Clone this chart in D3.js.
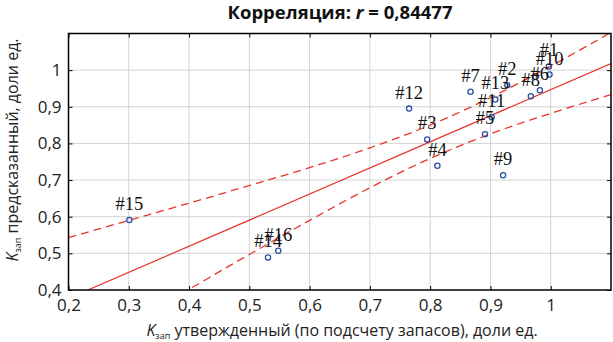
<!DOCTYPE html>
<html>
<head>
<meta charset="utf-8">
<script src="https://cdn.jsdelivr.net/npm/d3@7"></script>
<style>
  html, body { margin: 0; padding: 0; background: #fff; }
  svg { display: block; }
  .plabel { font-family: "Liberation Serif", "DejaVu Serif", serif; }
</style>
</head>
<body>
<svg id="chart" width="613" height="342"></svg>
<script>
// ---- data ----
const xTicks = [0.2, 0.3, 0.4, 0.5, 0.6, 0.7, 0.8, 0.9, 1.0];
const xTickLabels = ["0,2", "0,3", "0,4", "0,5", "0,6", "0,7", "0,8", "0,9", "1"];
const yTicks = [0.4, 0.5, 0.6, 0.7, 0.8, 0.9, 1.0];
const yTickLabels = ["0,4", "0,5", "0,6", "0,7", "0,8", "0,9", "1"];

const pointIds = ["#1", "#2", "#3", "#4", "#5", "#6", "#7", "#8", "#9", "#10", "#11", "#12", "#13", "#14", "#15", "#16"];
const pointX = [0.997, 0.928, 0.795, 0.812, 0.891, 0.982, 0.867, 0.967, 0.921, 0.998, 0.902, 0.765, 0.908, 0.531, 0.301, 0.548];
const pointY = [1.010, 0.959, 0.811, 0.739, 0.825, 0.945, 0.941, 0.929, 0.713, 0.988, 0.872, 0.895, 0.920, 0.489, 0.591, 0.507];

// regression line (end points) and confidence band read at x positions
const regX = [0.2, 1.1];
const regY = [0.377, 1.018];
const bandX = [0.2, 0.3, 0.4, 0.5, 0.6, 0.7, 0.8, 0.9, 1.0, 1.1];
const bandUpper = [0.543, 0.590, 0.637, 0.685, 0.734, 0.788, 0.850, 0.925, 1.011, 1.103];
const bandLower = [0.211, 0.307, 0.402, 0.497, 0.590, 0.679, 0.759, 0.826, 0.882, 0.933];

const xDomain = [0.2, 1.1];
const yDomain = [0.4, 1.1];

// ---- layout ----
const svg = d3.select("#chart");
const L = 68.5, R = 611, T = 33.5, B = 290;
const x = d3.scaleLinear().domain(xDomain).range([L, R]);
const y = d3.scaleLinear().domain(yDomain).range([B, T]);
const red = "#e8342c";
const blue = "#2b4ea6";
const tickFont = "'Open Sans', sans-serif";

svg.append("defs").append("clipPath").attr("id", "plotclip")
  .append("rect").attr("x", L).attr("y", T).attr("width", R - L).attr("height", B - T);

// grid
const grid = svg.append("g");
grid.selectAll("line.gx").data(xTicks.filter(d => d > xDomain[0])).join("line")
  .attr("x1", d => x(d)).attr("x2", d => x(d)).attr("y1", T).attr("y2", B)
  .attr("stroke", "#d4d4d4").attr("stroke-width", 1);
grid.selectAll("line.gy").data(yTicks.filter(d => d > yDomain[0])).join("line")
  .attr("x1", L).attr("x2", R).attr("y1", d => y(d)).attr("y2", d => y(d))
  .attr("stroke", "#d4d4d4").attr("stroke-width", 1);

// lines
const plot = svg.append("g").attr("clip-path", "url(#plotclip)");
const lineGen = d3.line().x(d => x(d[0])).y(d => y(d[1]));
plot.append("path").datum(regX.map((v, i) => [v, regY[i]]))
  .attr("d", lineGen).attr("fill", "none").attr("stroke", red).attr("stroke-width", 1.2);
const curveGen = d3.line().curve(d3.curveMonotoneX).x(d => x(d[0])).y(d => y(d[1]));
[bandUpper, bandLower].forEach(arr => {
  plot.append("path").datum(bandX.map((v, i) => [v, arr[i]]))
    .attr("d", curveGen).attr("fill", "none").attr("stroke", red)
    .attr("stroke-width", 1.3).attr("stroke-dasharray", "8,5");
});

// points
const pts = pointIds.map((id, i) => ({ id, x: pointX[i], y: pointY[i] }));
svg.append("g").selectAll("circle").data(pts).join("circle")
  .attr("cx", d => x(d.x)).attr("cy", d => y(d.y)).attr("r", 2.6)
  .attr("fill", "none").attr("stroke", blue).attr("stroke-width", 1.3);

// point labels
svg.append("g").selectAll("text").data(pts).join("text")
  .attr("class", "plabel")
  .attr("x", d => x(d.x)).attr("y", d => y(d.y) - 10)
  .attr("text-anchor", "middle")
  .attr("font-size", 18.5).attr("fill", "#111")
  .text(d => d.id);

// axes (inward ticks on all four sides)
const fmtX = d => xTickLabels[xTicks.indexOf(d)];
const fmtY = d => yTickLabels[yTicks.indexOf(d)];
const gB = svg.append("g").attr("transform", `translate(0,${B})`)
  .call(d3.axisBottom(x).tickValues(xTicks).tickFormat(fmtX).tickSizeInner(-4).tickSizeOuter(0).tickPadding(9));
const gT = svg.append("g").attr("transform", `translate(0,${T})`)
  .call(d3.axisTop(x).tickValues(xTicks).tickFormat("").tickSizeInner(-4).tickSizeOuter(0));
const gL = svg.append("g").attr("transform", `translate(${L},0)`)
  .call(d3.axisLeft(y).tickValues(yTicks).tickFormat(fmtY).tickSizeInner(-4).tickSizeOuter(0).tickPadding(7));
const gR = svg.append("g").attr("transform", `translate(${R},0)`)
  .call(d3.axisRight(y).tickValues(yTicks).tickFormat("").tickSizeInner(-4).tickSizeOuter(0));
[gB, gT, gL, gR].forEach(g => {
  g.select(".domain").remove();
  g.selectAll(".tick line").attr("stroke", "#000").attr("stroke-width", 1);
  g.selectAll(".tick text").attr("font-family", tickFont).attr("font-size", 17).attr("fill", "#222");
});

// frame
svg.append("rect").attr("x", L).attr("y", T).attr("width", R - L).attr("height", B - T)
  .attr("fill", "none").attr("stroke", "#000").attr("stroke-width", 1.5);

// title
const title = svg.append("text").attr("x", 340).attr("y", 19).attr("text-anchor", "middle")
  .attr("font-family", "'Open Sans', sans-serif").attr("font-size", 18.5).attr("font-weight", "bold").attr("fill", "#111");
title.append("tspan").text("Корреляция: ");
title.append("tspan").attr("font-style", "italic").text("r");
title.append("tspan").text(" = 0,84477");

// x axis title
const xt = svg.append("text").attr("x", 342).attr("y", 336).attr("text-anchor", "middle")
  .attr("font-family", "'Open Sans', sans-serif").attr("font-size", 16).attr("fill", "#222");
xt.append("tspan").attr("font-style", "italic").text("K");
xt.append("tspan").attr("font-size", 9).attr("dy", 3).text("зап");
xt.append("tspan").attr("dy", -3).text(" утвержденный (по подсчету запасов), доли ед.");

// y axis title
const yt = svg.append("text").attr("transform", "translate(18,150) rotate(-90)").attr("text-anchor", "middle")
  .attr("font-family", "'Open Sans', sans-serif").attr("font-size", 16).attr("fill", "#222");
yt.append("tspan").attr("font-style", "italic").text("K");
yt.append("tspan").attr("font-size", 9).attr("dy", 3).text("зап");
yt.append("tspan").attr("dy", -3).text(" предсказанный, доли ед.");
</script>
</body>
</html>
